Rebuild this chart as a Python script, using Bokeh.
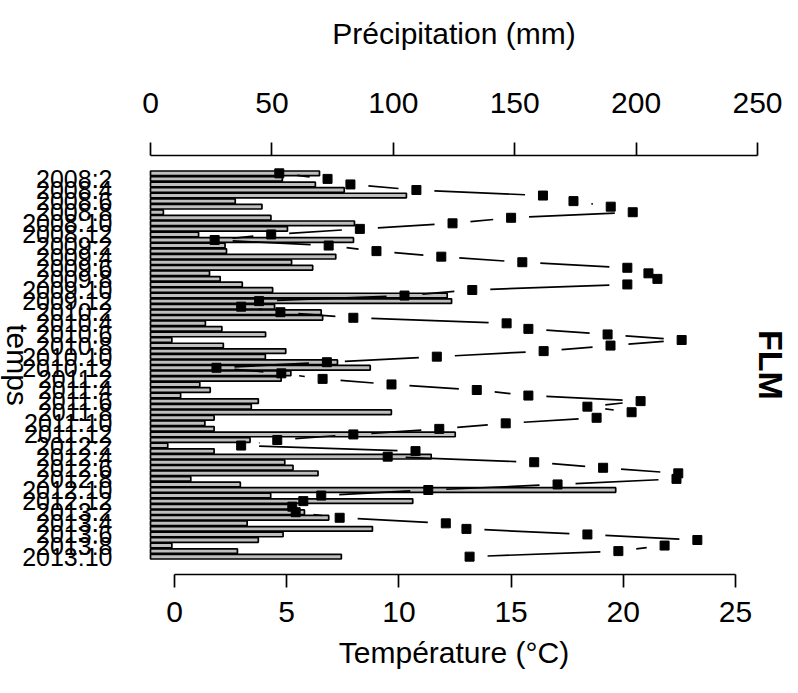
import math
from bokeh.plotting import figure
from bokeh.layouts import row
from bokeh.models import Range1d, LinearAxis, FixedTicker, Label
from bokeh.core.properties import value
from bokeh.embed import file_html
from bokeh.resources import INLINE

# ---- data ----
months = [f"{y}:{m}" for y in range(2008, 2014) for m in range(1, 13)][:70]  # 2008:1 .. 2013:10

precip = [69.6, 54.3, 67.9, 79.8, 105.4, 34.9, 45.9, 5.3, 49.6, 84.0,
          56.4, 19.8, 83.6, 30.7, 31.3, 76.3, 58.1, 66.8, 24.3, 28.7,
          37.8, 50.3, 122.2, 124.0, 51.1, 70.3, 70.9, 22.6, 29.4, 47.4,
          8.8, 30.0, 55.7, 47.3, 77.0, 90.5, 57.8, 53.8, 20.3, 24.6,
          12.4, 44.4, 41.5, 99.2, 26.2, 22.4, 26.2, 125.5, 41.0, 7.1,
          26.2, 115.6, 55.3, 58.7, 69.0, 16.6, 37.0, 191.6, 49.5, 108.0,
          57.7, 63.4, 73.4, 39.8, 91.4, 54.6, 44.4, 8.8, 35.8, 78.6]

temp = [4.67, 6.82, 7.84, 10.78, 16.42, 17.78, 19.44, 20.42, 15.0, 12.39,
        8.26, 4.31, 1.79, 6.87, 9.0, 11.89, 15.5, 20.18, 21.12, 21.52,
        20.18, 13.27, 10.25, 3.77, 2.97, 4.72, 7.97, 14.8, 15.77, 19.3,
        22.6, 19.43, 16.45, 11.69, 6.79, 1.87, 4.76, 6.6, 9.67, 13.47,
        15.77, 20.77, 18.4, 20.37, 18.81, 14.76, 11.8, 7.97, 4.58, 2.97,
        10.74, 9.5, 16.03, 19.1, 22.45, 22.37, 17.07, 11.31, 6.54, 5.74,
        5.25, 5.4, 7.36, 12.09, 13.01, 18.4, 23.3, 21.84, 19.78, 13.15]

precip_ticks = [0, 50, 100, 150, 200, 250]
temp_ticks = [0, 5, 10, 15, 20, 25]
label_idx = list(range(1, 70, 2))          # even months are labelled
label_text = [months[i] for i in label_idx]

# ---- layout (pixels) ----
W, H = 790, 685
LW = 117                         # width of the left strip (time labels + "temps")
FT, FB = 155, 574                # frame top / bottom
X0_PX = 150                      # where 0 mm sits
PX_MM = 607 / 250                # pixels per mm
T0_PX = 174                      # where 0 degC sits
PX_T = 561 / 25                  # pixels per degC
frame_h = FB - FT

x_start, x_end = (LW - X0_PX) / PX_MM, (W - X0_PX) / PX_MM
t_start, t_end = (LW - T0_PX) / PX_T, (W - T0_PX) / PX_T
y_rng = Range1d(72.21, -3.21)
FONT = "Liberation Sans"


def bare(fig):
    fig.xgrid.visible = False
    fig.ygrid.visible = False
    fig.outline_line_color = None
    fig.background_fill_color = "white"
    fig.border_fill_color = "white"


# ---- main figure ----
p = figure(width=W - LW, height=H, x_range=Range1d(x_start, x_end), y_range=y_rng,
           x_axis_location="above", y_axis_location=None,
           output_backend="svg", toolbar_location=None,
           min_border_left=0, min_border_right=0,
           min_border_top=FT, min_border_bottom=H - FB)
p.extra_x_ranges = {"temp": Range1d(t_start, t_end)}
bare(p)

idx = list(range(len(months)))

# bars
p.hbar(y=idx, left=0, right=precip, height=0.833, fill_color="#BEBEBE",
       line_color="black", line_width=1.7)

# temperature line, type "b": segments stop short of the points
px_y = frame_h / abs(y_rng.start - y_rng.end)
gap = 18.0
sx0, sy0, sx1, sy1 = [], [], [], []
for i in range(len(temp) - 1):
    x0, y0, x1, y1 = temp[i], idx[i], temp[i + 1], idx[i + 1]
    dxp, dyp = (x1 - x0) * PX_T, (y1 - y0) * px_y
    L = math.hypot(dxp, dyp)
    if L > 2 * gap:
        f = gap / L
        sx0.append(x0 + f * (x1 - x0)); sy0.append(y0 + f * (y1 - y0))
        sx1.append(x1 - f * (x1 - x0)); sy1.append(y1 - f * (y1 - y0))
p.segment(x0=sx0, y0=sy0, x1=sx1, y1=sy1, line_color="black", line_width=1.7,
          x_range_name="temp")
p.scatter(x=temp, y=idx, marker="square", size=9, fill_color="black",
          line_color="black", x_range_name="temp")


def style_x(a, standoff, lab_standoff):
    a.axis_line_color = "black"
    a.axis_line_width = 1.7
    a.major_tick_line_color = "black"
    a.major_tick_line_width = 1.7
    a.major_tick_out = 13
    a.major_tick_in = 0
    a.minor_tick_line_color = None
    a.major_label_text_font = FONT
    a.major_label_text_font_size = "30px"
    a.major_label_text_color = "black"
    a.major_label_standoff = standoff
    a.axis_label_text_font = FONT
    a.axis_label_text_font_size = "30px"
    a.axis_label_text_font_style = "normal"
    a.axis_label_text_color = "black"
    a.axis_label_standoff = lab_standoff


# top axis (precipitation)
ax = p.xaxis[0]
ax.ticker = FixedTicker(ticks=precip_ticks)
ax.bounds = (0, 250)
ax.axis_label = "Précipitation (mm)"
style_x(ax, 30, 40)

# bottom axis (temperature)
tax = LinearAxis(x_range_name="temp", ticker=FixedTicker(ticks=temp_ticks),
                 bounds=(0, 25), axis_label="Température (°C)")
style_x(tax, 14, 11)
p.add_layout(tax, "below")

p.add_layout(Label(x=(770 - X0_PX) / PX_MM, y=34.5, text="FLM", angle=-math.pi / 2,
                   text_align="center", text_baseline="middle",
                   text_font=FONT, text_font_size="34px", text_font_style="bold",
                   text_color="black"))

# ---- left strip: time labels and "temps" ----
q = figure(width=LW, height=H, x_range=Range1d(0, LW), y_range=y_rng,
           x_axis_location=None, y_axis_location=None,
           output_backend="svg", toolbar_location=None,
           min_border_left=0, min_border_right=0,
           min_border_top=FT, min_border_bottom=H - FB)
bare(q)
q.text(x=[112] * len(label_idx), y=label_idx, text=label_text,
       text_align="right", text_baseline="middle",
       text_font=value(FONT), text_font_size="25px", text_color="black")
q.add_layout(Label(x=17, y=34.5, text="temps", angle=-math.pi / 2,
                   text_align="center", text_baseline="middle",
                   text_font=FONT, text_font_size="30px", text_color="black"))

layout = row(q, p, spacing=0)
open("out.html", "w").write(file_html(layout, INLINE))
